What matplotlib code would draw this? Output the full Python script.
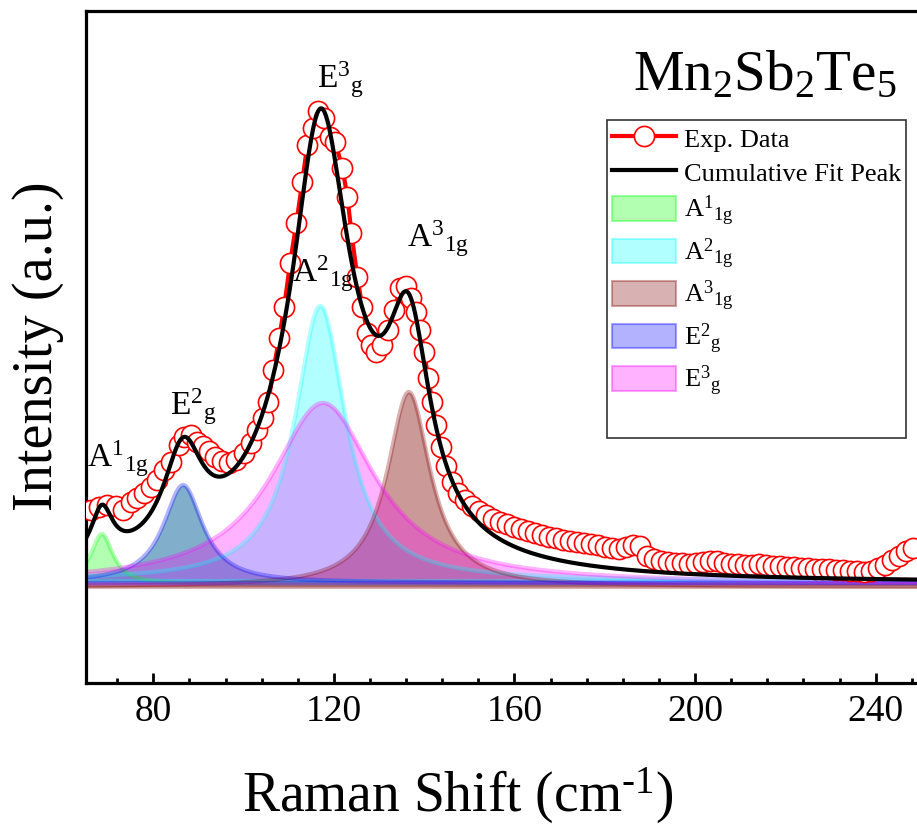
import numpy as np
import matplotlib
matplotlib.use("Agg")
from matplotlib import pyplot as plt
from matplotlib.ticker import MultipleLocator
from matplotlib.lines import Line2D
import matplotlib.patches as mpatches
from matplotlib.colors import to_rgb

plt.rcParams['font.family'] = ['Liberation Serif', 'DejaVu Serif']
plt.rcParams['mathtext.fontset'] = 'custom'
plt.rcParams['mathtext.rm'] = 'Liberation Serif'
plt.rcParams['mathtext.it'] = 'Liberation Serif:italic'
plt.rcParams['mathtext.bf'] = 'Liberation Serif:bold'

#------------------------------------------------------------------
# Experimental Raman spectrum (read off the figure, arbitrary units)
#------------------------------------------------------------------
shift = [66.3, 68.0, 69.8, 71.8, 73.4, 75.1, 76.5, 78.0, 79.6, 80.9,
         82.4, 84.0, 85.8, 86.9, 88.4, 89.7, 91.1, 92.4, 93.7, 95.3,
         96.8, 98.4, 100.2, 101.7, 103.0, 104.4, 105.5, 106.6, 107.9, 109.0,
         110.3, 111.7, 113.0, 114.1, 115.4, 116.5, 117.9, 119.2, 120.3, 121.9,
         123.0, 123.9, 125.2, 126.3, 127.4, 128.3, 129.4, 130.7, 132.0, 133.4,
         134.7, 136.0, 137.1, 138.2, 139.1, 140.0, 140.9, 141.8, 142.7, 143.8,
         144.9, 146.2, 147.6, 149.1, 150.7, 152.2, 153.8, 155.3, 156.9, 158.4,
         160.0, 161.5, 163.1, 164.6, 166.2, 167.7, 169.3, 170.8, 172.4, 173.9,
         175.5, 177.0, 178.6, 180.1, 181.7, 183.2, 184.8, 186.3, 187.9, 189.4,
         191.0, 192.5, 194.1, 195.6, 197.2, 198.7, 200.3, 201.8, 203.4, 204.9,
         206.5, 208.0, 209.6, 211.1, 212.7, 214.2, 215.8, 217.3, 218.9, 220.4,
         222.0, 223.5, 225.1, 226.6, 228.2, 229.7, 231.3, 232.8, 234.4, 235.9,
         237.5, 239.0, 240.6, 242.1, 243.7, 245.2, 246.8, 248.3]
intensity = [73, 76, 78, 77, 73, 81, 85, 90, 96, 103,
             113, 121, 138, 146, 148, 141, 137, 132, 126, 122,
             120, 123, 130, 140, 153, 165, 181, 213, 245, 276,
             320, 360, 401, 438, 455, 472, 465, 446, 441, 415,
             386, 350, 306, 276, 250, 238, 231, 238, 253, 273,
             295, 297, 285, 271, 253, 231, 205, 181, 158, 136,
             117, 101, 90, 83, 77, 72, 68, 64, 61, 59,
             56, 54, 52, 50, 48, 46, 45, 43, 42, 41,
             40, 39, 38, 36, 35, 34, 36, 38, 37, 27,
             24, 22, 21, 20, 20, 19, 20, 21, 22, 22,
             20, 19, 19, 18, 18, 19, 18, 17, 17, 16,
             16, 15, 15, 14, 14, 14, 13, 13, 12, 12,
             11, 12, 15, 18, 23, 27, 32, 35]

# Fitted Lorentzian components: centre (cm-1), half width, height, baseline
peak_labels = [r"$\mathrm{A}^{1}{}_{\mathrm{1g}}$", r"$\mathrm{A}^{2}{}_{\mathrm{1g}}$",
               r"$\mathrm{A}^{3}{}_{\mathrm{1g}}$", r"$\mathrm{E}^{2}{}_{\mathrm{g}}$",
               r"$\mathrm{E}^{3}{}_{\mathrm{g}}$"]
peak_center = [68.6, 117.0, 136.6, 86.6, 117.6]
peak_hwhm = [3.0, 6.8, 5.8, 5.3, 14.0]
peak_height = [50, 275, 195, 98, 181]
peak_base = [-1, 2, -4, 0, -1]
peak_colors = ["#00ff00", "#00ffff", "#800000", "#0000ff", "#ff00ff"]
# how the fills look inside the plot (E2 shows up teal there)
fill_colors = ["#00ff00", "#00ffff", "#800000", "#3d85b0", "#ff00ff"]
fill_alpha = [0.3, 0.3, 0.4, 0.65, 0.3]

# annotation anchor (left edge, baseline) for each mode label
label_x = [65.4, 110.8, 136.2, 83.6, 116.3]
label_y = [116, 301, 336, 168, 495]


def lorentz(x, x0, w, h):
    return h / (1.0 + ((x - x0) / w) ** 2)


xfit = np.linspace(65, 250, 1200)

fig = plt.figure(figsize=(9.17, 8.27), dpi=100)
ax = fig.add_axes([86 / 917, 0.1738, 834.8 / 917, 0.8129])

cumulative = np.zeros_like(xfit)
patches = []
for lab, x0, w, h, b, c, fc, fa in zip(peak_labels, peak_center, peak_hwhm, peak_height,
                                       peak_base, peak_colors, fill_colors, fill_alpha):
    yp = lorentz(xfit, x0, w, h)
    cumulative += yp
    ax.fill_between(xfit, b, b + yp, color=fc, alpha=fa, lw=0, zorder=1)
    ax.plot(xfit, b + yp, color=c, alpha=0.3, lw=3, zorder=1.5)
    ax.plot(xfit, np.full_like(xfit, b), color=c, alpha=0.3, lw=3, zorder=1.5)
    patches.append(mpatches.Patch(facecolor=to_rgb(c) + (0.3,),
                                  edgecolor=to_rgb(c) + (0.35,),
                                  lw=1.5, label=lab))

ax.plot(shift, intensity, color="red", lw=3, marker="o", ms=14.5,
        mfc="white", mec="red", mew=1.2, zorder=3)
ax.plot(xfit, cumulative, color="black", lw=3, zorder=4)

for lab, lx, ly in zip(peak_labels, label_x, label_y):
    ax.text(lx, ly, lab, fontsize=24, ha="left", va="baseline", zorder=5)

ax.set_xlim(65.1, 250)
ax.set_ylim(-100.3, 572)

ax.xaxis.set_major_locator(MultipleLocator(40))
ax.xaxis.set_minor_locator(MultipleLocator(8))
ax.tick_params(axis="x", which="major", direction="in", length=7.5, width=2,
               labelsize=27, pad=8, top=False)
ax.tick_params(axis="x", which="minor", direction="in", length=3.8, width=2, top=False)
ax.tick_params(axis="y", left=False, labelleft=False)
for s in ["left", "top", "bottom"]:
    ax.spines[s].set_linewidth(2.3)
ax.spines["right"].set_visible(False)

ax.set_xlabel("Raman Shift (cm$^{\u2010\\mathrm{1}}$)", fontsize=40)
ax.xaxis.label.set_va("baseline")
ax.xaxis.set_label_coords(0.4456, -0.191)
ax.set_ylabel("Intensity (a.u.)", fontsize=40.5)
ax.yaxis.label.set_va("center")
ax.yaxis.set_label_coords(-0.0575, 0.501)

fig.text(633 / 917, 1 - 90 / 827, r"Mn$_\mathrm{2}$Sb$_\mathrm{2}$Te$_\mathrm{5}$",
         fontsize=41, ha="left", va="baseline")

exp_handle = Line2D([], [], color="red", lw=3, marker="o", ms=14.5,
                    mfc="white", mec="red", mew=1.2, label="Exp. Data")
fit_handle = Line2D([], [], color="black", lw=3, label="Cumulative Fit Peak")
blank = Line2D([], [], color="none", label=" ")
leg = fig.legend(handles=[exp_handle, fit_handle] + patches + [blank],
                 loc="upper left", bbox_to_anchor=(607 / 917, 1 - 120 / 827),
                 fontsize=19, frameon=True, fancybox=False, framealpha=1,
                 edgecolor="#333333", borderpad=0.2, borderaxespad=0,
                 handlelength=2.4, handleheight=1.05, handletextpad=0.3,
                 labelspacing=0.3)
leg.get_frame().set_linewidth(1.2)

fig.savefig("out.png", dpi=100)
